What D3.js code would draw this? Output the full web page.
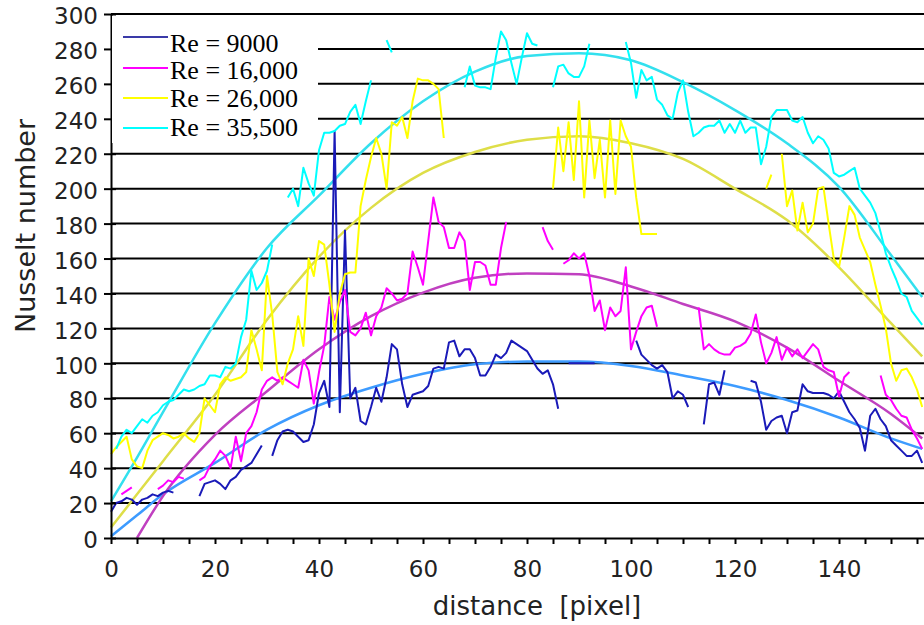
<!DOCTYPE html>
<html><head><meta charset="utf-8">
<script src="https://cdn.jsdelivr.net/npm/d3@7"></script>
<style>html,body{margin:0;padding:0;background:#fff;} svg{display:block}</style>
</head><body>
<svg id="chart" width="924" height="625"></svg>
<script>
// ---------- DATA ----------
const distance = d3.range(0, 157); // pixel index 0..156

const seriesNames = ["Re = 9000", "Re = 16,000", "Re = 26,000", "Re = 35,500"];

const nu9000 = [15,20,21,23,22,19,22,23,25,24,
26,27,26,null,null,null,null,24,31,32,
33,31,28,33,35,39,41,43,48,53,
null,47,56,61,62,61,58,55,56,65,
83,90,75,233,72,176,80,86,67,65,
75,86,78,92,111,108,88,75,82,83,
84,87,97,98,97,112,113,104,108,108,
103,93,93,98,105,103,106,113,111,109,
107,102,97,94,96,88,74,null,100,100,
100,100,100,100,null,null,null,null,null,null,
null,113,105,102,99,97,99,95,80,84,
82,75,null,null,65,88,89,82,96,null,
null,null,null,90,89,78,62,67,69,70,
60,72,73,88,84,83,83,83,82,80,
84,78,72,68,63,50,70,74,68,64,
56,53,50,47,47,50,43];

const nu16000 = [null,null,25,27,29,null,null,null,null,28,
30,33,32,35,34,null,null,33,35,41,
45,50,47,40,58,44,60,64,72,85,
90,92,90,92,90,88,86,102,96,77,
95,110,138,125,135,142,118,116,120,129,
116,127,132,143,140,136,137,140,164,155,
145,170,195,181,178,166,166,175,170,142,
158,158,156,145,145,166,181,null,null,null,
null,null,null,178,170,165,null,157,159,163,
160,163,150,130,136,119,132,127,130,155,
108,118,127,132,133,121,null,null,null,null,
null,null,null,132,108,111,108,106,105,105,
109,110,112,117,128,112,100,106,115,102,
109,104,108,103,107,111,108,98,96,95,
81,92,95,null,null,null,null,null,93,82,
79,74,70,69,62,57,51];

const nu26000 = [48,52,55,58,45,41,40,50,56,58,
60,59,57,58,60,57,55,60,80,76,
72,88,92,90,91,92,95,119,108,96,
150,128,95,88,100,108,127,110,160,150,
170,168,145,118,140,151,152,152,190,205,
218,229,220,200,238,236,241,229,250,263,
262,262,260,257,229,null,null,null,null,null,
null,null,null,null,null,null,null,null,null,null,
null,null,null,null,null,200,235,210,238,205,
250,195,239,206,228,195,239,197,239,230,
224,195,174,174,174,174,null,null,null,null,
null,null,null,null,null,null,null,null,null,null,
null,null,null,null,null,null,200,208,null,220,
190,199,176,192,175,180,200,201,180,160,
155,172,190,185,172,165,158,145,133,120,
100,90,96,97,92,85,75];

const nu35500 = [null,51,58,62,60,64,68,66,70,72,
76,78,79,82,85,84,85,87,88,93,
93,92,98,97,100,115,125,153,142,146,
153,168,null,null,195,200,190,212,203,196,
222,232,232,233,236,237,244,248,237,250,
262,null,null,285,278,null,null,null,null,null,
null,null,null,null,null,null,null,null,258,270,
259,258,258,257,275,290,285,272,260,275,
289,283,282,null,null,258,270,271,266,264,
264,270,283,null,null,null,null,null,null,284,
272,252,268,262,264,251,248,242,240,255,
262,244,230,232,235,236,236,239,232,237,
232,239,232,235,235,214,224,241,245,245,
245,239,238,241,232,226,230,228,223,209,
207,208,210,212,200,196,192,186,175,163,
155,148,140,138,130,126,122];

// trend (fit) curves
const fitDistance = [0,5,10,20,30,40,50,60,70,80,90,100,110,120,130,140,150,156];
const fit9000  = [1,13,25,43,62,76,86,94,99.5,101,101,98.5,93,87,79,69,57,51];
const fit16000 = [null,0,24,59,84,108,127,140.5,149,151.5,151,144,134,124,109,90,71,57];
const fit26000 = [6,25,44,82,125,161,189,209,221,228,230,226,217,200,182,155,123,104];
const fit35500 = [21,46,72,123,166,196,226,250,267,276,277.5,273.5,261,245,226,201,162,138];

const yTickValues = d3.range(0, 301, 20);
const xTickValues = d3.range(0, 161, 5);
const xLabelValues = [0, 20, 40, 60, 80, 100, 120, 140];

// ---------- CHART ----------
const svg = d3.select("#chart");
const W = 924, H = 625;
const x = d3.scaleLinear().domain([0, 160]).range([111, 943]);
const y = d3.scaleLinear().domain([0, 300]).range([538, 14]);

const dataColors = ["#1a1ab8", "#ff00ff", "#ffff00", "#00ffff"];
const fitColors  = ["#3d9bff", "#c040c0", "#dede48", "#33e0ee"];
const series = [nu9000, nu16000, nu26000, nu35500];
const fits = [fit9000, fit16000, fit26000, fit35500];

svg.append("rect").attr("width", W).attr("height", H).attr("fill", "#fff");

// gridlines
svg.append("g").selectAll("line").data(yTickValues.filter(v => v > 0)).join("line")
  .attr("x1", x(0)).attr("x2", W)
  .attr("y1", d => y(d)).attr("y2", d => y(d))
  .attr("stroke", "#000").attr("stroke-width", 2);

// fits
const fitLine = d3.line()
  .defined(d => d[1] != null)
  .x(d => x(d[0])).y(d => y(d[1]))
  .curve(d3.curveMonotoneX);
fits.forEach((f, i) => {
  svg.append("path")
    .datum(fitDistance.map((d, j) => [d, f[j]]))
    .attr("d", fitLine)
    .attr("fill", "none")
    .attr("stroke", fitColors[i])
    .attr("stroke-width", 2.5);
});

// data
const dataLine = d3.line()
  .defined(d => d[1] != null)
  .x(d => x(d[0])).y(d => y(d[1]));
series.forEach((s, i) => {
  svg.append("path")
    .datum(distance.map((d, j) => [d, s[j]]))
    .attr("d", dataLine)
    .attr("fill", "none")
    .attr("stroke", dataColors[i])
    .attr("stroke-width", 2)
    .attr("stroke-linejoin", "round");
});

// axes
const tickFont = "DejaVu Sans, sans-serif";
const xAxis = svg.append("g").attr("transform", `translate(0,${y(0)})`)
  .call(d3.axisBottom(x).tickValues(xTickValues).tickSize(6).tickSizeOuter(0)
    .tickFormat(d => xLabelValues.includes(d) ? d : ""));
xAxis.select(".domain").attr("stroke", "#000").attr("stroke-width", 2);
xAxis.selectAll(".tick line").attr("stroke", "#000").attr("stroke-width", 2);
xAxis.selectAll(".tick text").attr("y", 39).attr("dy", 0)
  .attr("font-family", tickFont).attr("font-size", 23).attr("fill", "#222");

const yAxis = svg.append("g").attr("transform", `translate(${x(0)},0)`)
  .call(d3.axisLeft(y).tickValues(yTickValues).tickSize(7).tickSizeOuter(0));
yAxis.select(".domain").attr("stroke", "#000").attr("stroke-width", 2);
yAxis.selectAll(".tick line").attr("x1", 5).attr("x2", -7).attr("stroke", "#000").attr("stroke-width", 2);
yAxis.selectAll(".tick text").attr("x", -13).attr("dy", "0.42em")
  .attr("font-family", tickFont).attr("font-size", 23).attr("fill", "#222");

// axis titles
svg.append("text").attr("x", 537).attr("y", 615)
  .attr("text-anchor", "middle").attr("font-family", tickFont).attr("font-size", 26)
  .attr("fill", "#222").style("white-space", "pre").text("distance  [pixel]");
svg.append("text").attr("transform", "translate(35,226) rotate(-90)")
  .attr("text-anchor", "middle").attr("font-family", tickFont).attr("font-size", 27)
  .attr("fill", "#222").text("Nusselt number");

// legend
const lg = svg.append("g");
lg.append("rect").attr("x", 112).attr("y", 16).attr("width", 206).attr("height", 127).attr("fill", "#fff");
const legLineY = [37, 68, 98, 128];
const legTextY = [52, 79, 107, 136];
seriesNames.forEach((name, i) => {
  lg.append("line").attr("x1", 123).attr("x2", 168)
    .attr("y1", legLineY[i]).attr("y2", legLineY[i])
    .attr("stroke", i === 0 ? "#3a3aa8" : dataColors[i]).attr("stroke-width", 2);
  lg.append("text").attr("x", 170).attr("y", legTextY[i])
    .attr("font-family", "Liberation Serif, serif").attr("font-size", 26)
    .attr("fill", "#000").text(name);
});
</script>
</body></html>
